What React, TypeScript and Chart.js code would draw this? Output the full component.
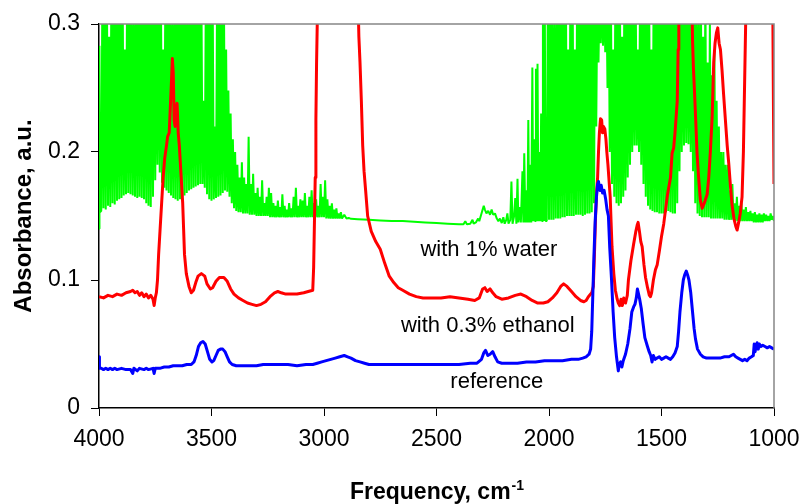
import React, { useEffect, useRef } from 'react';
import { Chart, registerables } from 'chart.js';

Chart.register(...registerables);

// ---- axis ticks ----
const xTicks = [4000, 3500, 3000, 2500, 2000, 1500, 1000];
const yTicks = [0, 0.1, 0.2, 0.3];
const yTickLabels = ['0', '0.1', '0.2', '0.3'];

// ---- series names / colours ----
const seriesNames = ['with 1% water', 'with 0.3% ethanol', 'reference'];
const seriesColors = ['#00ff00', '#ff0000', '#0000ff'];

// ---- in-plot labels (data coords: x = wavenumber, y = baseline absorbance) ----
const labelTexts = ['with 1% water', 'with 0.3% ethanol', 'reference'];
const labelXs = [2267, 2272, 2232];
const labelYs = [0.1185, 0.0591, 0.0154];

// ---- reference (blue) ----
const referenceData: [number, number][] = [
  [4000, 0.040], [3998, 0.031], [3990, 0.031], [3980, 0.030], [3970, 0.031], [3960, 0.030], [3950, 0.031],
  [3940, 0.030], [3930, 0.031], [3920, 0.030], [3900, 0.031], [3880, 0.030], [3860, 0.030], [3850, 0.027],
  [3845, 0.031], [3830, 0.029], [3820, 0.031], [3800, 0.030], [3790, 0.031], [3780, 0.030], [3760, 0.031],
  [3755, 0.027], [3750, 0.031], [3730, 0.031], [3710, 0.032], [3690, 0.032], [3670, 0.033], [3650, 0.033],
  [3630, 0.033], [3610, 0.034], [3590, 0.034], [3578, 0.036], [3568, 0.041], [3558, 0.048], [3548, 0.051],
  [3538, 0.052], [3528, 0.050], [3518, 0.044], [3508, 0.038], [3498, 0.036], [3490, 0.037], [3480, 0.041],
  [3470, 0.045], [3460, 0.046], [3450, 0.046], [3440, 0.044], [3430, 0.040], [3420, 0.036], [3408, 0.034],
  [3390, 0.033], [3360, 0.033], [3330, 0.033], [3300, 0.033], [3270, 0.034], [3240, 0.034], [3200, 0.034],
  [3160, 0.034], [3120, 0.033], [3080, 0.034], [3050, 0.034], [3030, 0.035], [3010, 0.036], [2990, 0.037],
  [2970, 0.038], [2950, 0.039], [2930, 0.040], [2910, 0.041], [2895, 0.040], [2880, 0.039], [2860, 0.037],
  [2840, 0.036], [2820, 0.035], [2800, 0.034], [2760, 0.034], [2700, 0.034], [2640, 0.034], [2580, 0.034],
  [2520, 0.034], [2460, 0.034], [2400, 0.034], [2350, 0.035], [2320, 0.035], [2300, 0.038], [2290, 0.043],
  [2282, 0.045], [2272, 0.041], [2262, 0.042], [2250, 0.044], [2240, 0.040], [2228, 0.036], [2210, 0.035],
  [2180, 0.035], [2140, 0.035], [2100, 0.036], [2060, 0.036], [2020, 0.037], [1980, 0.037], [1940, 0.037],
  [1900, 0.038], [1870, 0.038], [1850, 0.039], [1835, 0.040], [1822, 0.042], [1815, 0.046], [1810, 0.060],
  [1805, 0.090], [1800, 0.120], [1795, 0.145], [1789, 0.165], [1784, 0.175], [1780, 0.177], [1774, 0.170],
  [1768, 0.174], [1762, 0.168], [1755, 0.170], [1748, 0.163], [1742, 0.155], [1736, 0.150], [1730, 0.125],
  [1722, 0.100], [1715, 0.075], [1708, 0.055], [1700, 0.040], [1692, 0.029], [1688, 0.034], [1682, 0.036],
  [1676, 0.032], [1670, 0.037], [1660, 0.042], [1650, 0.050], [1640, 0.062], [1632, 0.075], [1624, 0.079],
  [1618, 0.081], [1612, 0.086], [1607, 0.093], [1602, 0.089], [1597, 0.085], [1590, 0.078], [1582, 0.066],
  [1574, 0.055], [1564, 0.049], [1555, 0.044], [1548, 0.041], [1542, 0.036], [1536, 0.041], [1528, 0.038],
  [1520, 0.039], [1510, 0.040], [1500, 0.038], [1490, 0.039], [1480, 0.040], [1470, 0.039], [1460, 0.038],
  [1450, 0.040], [1440, 0.043], [1430, 0.048], [1424, 0.060], [1418, 0.075], [1410, 0.090], [1403, 0.100],
  [1397, 0.104], [1390, 0.107], [1384, 0.104], [1378, 0.100], [1370, 0.090], [1362, 0.075], [1355, 0.062],
  [1349, 0.054], [1340, 0.046], [1327, 0.042], [1315, 0.040], [1300, 0.039], [1280, 0.039], [1260, 0.039],
  [1240, 0.039], [1220, 0.040], [1200, 0.040], [1190, 0.041], [1180, 0.042], [1170, 0.040], [1160, 0.039],
  [1150, 0.038], [1140, 0.037], [1130, 0.038], [1120, 0.037], [1110, 0.039], [1100, 0.040], [1092, 0.041],
  [1088, 0.050], [1084, 0.044], [1080, 0.048], [1075, 0.051], [1070, 0.046], [1065, 0.050], [1058, 0.048],
  [1050, 0.049], [1040, 0.048], [1030, 0.047], [1020, 0.048], [1010, 0.047], [1000, 0.046],
];

// ---- with 0.3% ethanol (red) ----
const ethanolData: [number, number][] = [
  [4000, 0.087], [3980, 0.086], [3960, 0.088], [3940, 0.087], [3920, 0.089], [3900, 0.088], [3880, 0.090],
  [3860, 0.091], [3850, 0.092], [3840, 0.090], [3830, 0.091], [3820, 0.088], [3810, 0.090], [3800, 0.087],
  [3790, 0.089], [3780, 0.086], [3770, 0.088], [3760, 0.085], [3755, 0.080], [3750, 0.086], [3745, 0.090],
  [3740, 0.100], [3735, 0.120], [3725, 0.150], [3715, 0.180], [3708, 0.195], [3700, 0.205], [3695, 0.212],
  [3688, 0.215], [3683, 0.235], [3678, 0.255], [3674, 0.273], [3670, 0.262], [3666, 0.225], [3662, 0.220],
  [3657, 0.235], [3653, 0.238], [3648, 0.215], [3643, 0.205], [3638, 0.190], [3633, 0.175], [3628, 0.160],
  [3624, 0.140], [3620, 0.120], [3612, 0.105], [3600, 0.095], [3590, 0.090], [3580, 0.092], [3570, 0.098],
  [3560, 0.103], [3545, 0.105], [3530, 0.103], [3520, 0.097], [3505, 0.093], [3495, 0.094], [3480, 0.099],
  [3465, 0.102], [3445, 0.102], [3430, 0.099], [3415, 0.093], [3400, 0.089], [3380, 0.086], [3360, 0.084],
  [3340, 0.082], [3320, 0.081], [3300, 0.080], [3280, 0.081], [3260, 0.083], [3240, 0.087], [3220, 0.090],
  [3205, 0.091], [3190, 0.090], [3170, 0.089], [3150, 0.089], [3120, 0.089], [3090, 0.090], [3070, 0.091],
  [3050, 0.092], [3046, 0.110], [3042, 0.150], [3039, 0.180], [3036, 0.225], [3033, 0.270], [3030, 0.300],
  [3026, 0.330], [2850, 0.330], [2845, 0.290], [2840, 0.270], [2834, 0.240], [2828, 0.205], [2822, 0.185],
  [2815, 0.170], [2806, 0.150], [2790, 0.138], [2770, 0.130], [2750, 0.124], [2730, 0.113], [2710, 0.103],
  [2690, 0.098], [2670, 0.094], [2650, 0.092], [2620, 0.089], [2590, 0.087], [2560, 0.086], [2520, 0.086],
  [2480, 0.086], [2440, 0.087], [2400, 0.086], [2360, 0.085], [2330, 0.084], [2310, 0.086], [2295, 0.093],
  [2285, 0.094], [2275, 0.091], [2262, 0.093], [2250, 0.090], [2235, 0.087], [2210, 0.085], [2180, 0.086],
  [2150, 0.088], [2125, 0.089], [2100, 0.087], [2075, 0.084], [2050, 0.082], [2025, 0.082], [2005, 0.083],
  [1985, 0.086], [1965, 0.090], [1948, 0.095], [1935, 0.097], [1920, 0.095], [1900, 0.091], [1880, 0.087],
  [1860, 0.084], [1845, 0.083], [1835, 0.084], [1825, 0.087], [1815, 0.089], [1810, 0.090], [1803, 0.095],
  [1798, 0.120], [1793, 0.150], [1788, 0.170], [1784, 0.180], [1780, 0.200], [1776, 0.215], [1771, 0.226],
  [1766, 0.225], [1762, 0.215], [1758, 0.220], [1752, 0.218], [1747, 0.210], [1743, 0.200], [1738, 0.190],
  [1734, 0.180], [1728, 0.165], [1724, 0.145], [1720, 0.126], [1712, 0.105], [1705, 0.092], [1697, 0.085],
  [1692, 0.082], [1686, 0.080], [1680, 0.085], [1674, 0.080], [1668, 0.086], [1660, 0.082], [1652, 0.088],
  [1647, 0.100], [1636, 0.115], [1624, 0.128], [1614, 0.138], [1608, 0.143], [1604, 0.145], [1598, 0.138],
  [1592, 0.130], [1586, 0.126], [1578, 0.112], [1571, 0.102], [1562, 0.094], [1554, 0.088], [1549, 0.087],
  [1544, 0.090], [1536, 0.100], [1527, 0.108], [1519, 0.112], [1510, 0.122], [1500, 0.134], [1490, 0.144],
  [1482, 0.155], [1474, 0.166], [1466, 0.174], [1460, 0.180], [1453, 0.199], [1446, 0.203], [1440, 0.215],
  [1434, 0.230], [1430, 0.240], [1426, 0.280], [1423, 0.330], [1366, 0.330], [1362, 0.287], [1358, 0.265],
  [1354, 0.250], [1348, 0.225], [1342, 0.199], [1335, 0.180], [1327, 0.162], [1319, 0.156], [1310, 0.160],
  [1297, 0.167], [1290, 0.180], [1283, 0.200], [1275, 0.227], [1268, 0.270], [1262, 0.285], [1256, 0.293],
  [1250, 0.297], [1244, 0.285], [1238, 0.280], [1231, 0.264], [1224, 0.245], [1216, 0.225], [1208, 0.205],
  [1201, 0.191], [1193, 0.172], [1186, 0.158], [1178, 0.148], [1170, 0.142], [1164, 0.139], [1157, 0.145],
  [1150, 0.152], [1142, 0.165], [1136, 0.200], [1131, 0.250], [1126, 0.300], [1122, 0.330], [1006, 0.330],
  [1003, 0.250], [1000, 0.175],
];

// ---- with 1% water (green) ----
const waterData: [number, number][] = [
  [4000, 0.140], [3998, 0.283], [3995, 0.153],
  [3990, 0.154], [3985, 0.33], [3980, 0.156], [3975, 0.33], [3970, 0.155], [3965, 0.33], [3960, 0.158],
  [3955, 0.29], [3950, 0.157], [3945, 0.33], [3940, 0.160], [3935, 0.33], [3930, 0.159], [3925, 0.33],
  [3920, 0.162], [3915, 0.33], [3910, 0.163], [3905, 0.33], [3900, 0.164], [3895, 0.33], [3890, 0.166],
  [3885, 0.28], [3880, 0.167], [3875, 0.33], [3870, 0.168], [3865, 0.33], [3860, 0.167], [3855, 0.33],
  [3850, 0.166], [3845, 0.30], [3840, 0.165], [3835, 0.33], [3830, 0.164], [3825, 0.33], [3820, 0.165],
  [3815, 0.33], [3810, 0.164], [3805, 0.33], [3800, 0.163], [3795, 0.33], [3790, 0.160], [3785, 0.33],
  [3780, 0.158], [3775, 0.33], [3770, 0.157], [3765, 0.33], [3760, 0.165], [3755, 0.33], [3750, 0.178],
  [3745, 0.33], [3740, 0.190], [3735, 0.33], [3730, 0.184], [3725, 0.33], [3720, 0.176], [3715, 0.28],
  [3710, 0.172], [3705, 0.33], [3700, 0.170], [3695, 0.33], [3690, 0.168], [3685, 0.33], [3680, 0.166],
  [3675, 0.30], [3670, 0.164], [3665, 0.33], [3660, 0.163], [3655, 0.33], [3650, 0.162], [3645, 0.33],
  [3640, 0.163], [3635, 0.33], [3630, 0.165], [3625, 0.33], [3620, 0.166], [3615, 0.33], [3610, 0.168],
  [3605, 0.30], [3600, 0.170], [3595, 0.33], [3590, 0.171], [3585, 0.33], [3580, 0.172], [3575, 0.33],
  [3570, 0.173], [3565, 0.33], [3560, 0.174], [3555, 0.33], [3550, 0.175], [3545, 0.33], [3540, 0.175],
  [3535, 0.24], [3530, 0.172], [3525, 0.33], [3520, 0.167], [3515, 0.33], [3510, 0.163], [3505, 0.33],
  [3500, 0.162], [3495, 0.33], [3490, 0.163], [3485, 0.22], [3480, 0.164], [3475, 0.33], [3470, 0.165],
  [3465, 0.33], [3460, 0.166], [3455, 0.33], [3450, 0.168], [3445, 0.33], [3440, 0.170], [3435, 0.28],
  [3430, 0.169], [3425, 0.248], [3420, 0.165], [3415, 0.23], [3410, 0.160], [3405, 0.21], [3400, 0.156],
  [3395, 0.20], [3390, 0.154], [3385, 0.19], [3380, 0.153], [3375, 0.18], [3370, 0.153], [3365, 0.192],
  [3360, 0.152], [3355, 0.18], [3350, 0.152], [3345, 0.175], [3340, 0.152], [3335, 0.212], [3330, 0.151],
  [3325, 0.175], [3320, 0.151], [3315, 0.183], [3310, 0.151], [3305, 0.168], [3300, 0.150], [3295, 0.172],
  [3290, 0.150], [3285, 0.165], [3280, 0.150], [3275, 0.178], [3270, 0.150], [3265, 0.160], [3260, 0.150],
  [3255, 0.165], [3250, 0.150], [3245, 0.172], [3240, 0.149], [3235, 0.168], [3230, 0.149], [3225, 0.160],
  [3220, 0.149], [3215, 0.158], [3210, 0.149], [3205, 0.162], [3200, 0.149], [3195, 0.157], [3190, 0.149],
  [3185, 0.167], [3180, 0.149], [3175, 0.158], [3170, 0.149], [3165, 0.155], [3160, 0.149], [3155, 0.160],
  [3150, 0.149], [3145, 0.156], [3140, 0.149], [3135, 0.165], [3130, 0.149], [3125, 0.172], [3120, 0.149],
  [3115, 0.158], [3110, 0.149], [3105, 0.163], [3100, 0.149], [3095, 0.162], [3090, 0.149], [3085, 0.168],
  [3080, 0.149], [3075, 0.158], [3070, 0.149], [3065, 0.165], [3060, 0.149], [3055, 0.170], [3050, 0.149],
  [3045, 0.160], [3040, 0.149], [3035, 0.163], [3030, 0.149], [3025, 0.158], [3020, 0.149], [3015, 0.175],
  [3010, 0.149], [3005, 0.165], [3000, 0.149], [2995, 0.178], [2990, 0.148], [2985, 0.163], [2980, 0.148],
  [2975, 0.158], [2970, 0.148], [2965, 0.160], [2960, 0.148], [2955, 0.155], [2950, 0.148], [2945, 0.156],
  [2940, 0.148], [2935, 0.152], [2930, 0.148], [2925, 0.153], [2920, 0.148], [2910, 0.151], [2900, 0.148],
  [2890, 0.1485], [2880, 0.1478], [2850, 0.1475], [2800, 0.147], [2750, 0.1465], [2700, 0.146],
  [2650, 0.146], [2600, 0.1455], [2550, 0.145], [2500, 0.1445], [2450, 0.144], [2400, 0.1435],
  [2380, 0.1435], [2372, 0.146], [2365, 0.1435], [2350, 0.144], [2340, 0.147], [2335, 0.144], [2325, 0.145],
  [2315, 0.148], [2310, 0.146], [2300, 0.152], [2295, 0.155], [2290, 0.158], [2285, 0.155], [2278, 0.152],
  [2270, 0.154], [2262, 0.151], [2255, 0.155], [2248, 0.151], [2240, 0.152], [2232, 0.148], [2225, 0.146],
  [2218, 0.148], [2210, 0.1445], [2203, 0.149], [2197, 0.144], [2190, 0.147], [2185, 0.152], [2180, 0.144],
  [2172, 0.147], [2167, 0.177], [2162, 0.144], [2155, 0.150], [2150, 0.164], [2145, 0.144], [2140, 0.179],
  [2136, 0.145], [2130, 0.157], [2125, 0.145], [2118, 0.185], [2114, 0.145], [2110, 0.199], [2105, 0.145],
  [2100, 0.170], [2096, 0.145], [2092, 0.225], [2088, 0.145], [2083, 0.190], [2079, 0.145], [2074, 0.266],
  [2070, 0.146], [2066, 0.210], [2062, 0.146], [2058, 0.265], [2055, 0.146], [2051, 0.269], [2047, 0.146],
  [2043, 0.200], [2039, 0.146], [2035, 0.230], [2031, 0.146], [2027, 0.300], [2023, 0.146], [2019, 0.33],
  [2015, 0.146],
  [2010, 0.146], [2005, 0.33], [2000, 0.147], [1995, 0.33], [1990, 0.147], [1985, 0.33], [1980, 0.147],
  [1975, 0.30], [1970, 0.148], [1965, 0.33], [1960, 0.148], [1955, 0.33], [1950, 0.148], [1945, 0.33],
  [1940, 0.149], [1935, 0.33], [1930, 0.149], [1925, 0.33], [1920, 0.150], [1915, 0.28], [1910, 0.150],
  [1905, 0.33], [1900, 0.150], [1895, 0.33], [1890, 0.150], [1885, 0.28], [1880, 0.151], [1875, 0.33],
  [1870, 0.151], [1865, 0.33], [1860, 0.151], [1855, 0.33], [1850, 0.150], [1845, 0.33], [1840, 0.151],
  [1835, 0.33], [1830, 0.152], [1825, 0.33], [1820, 0.152], [1815, 0.33], [1810, 0.153], [1805, 0.33],
  [1800, 0.160], [1795, 0.33], [1790, 0.220], [1785, 0.33], [1780, 0.270], [1775, 0.33], [1770, 0.285],
  [1765, 0.33], [1760, 0.283], [1755, 0.33], [1750, 0.278], [1745, 0.33], [1740, 0.250], [1735, 0.33],
  [1730, 0.200], [1725, 0.33], [1720, 0.175], [1715, 0.28], [1710, 0.165], [1705, 0.33], [1700, 0.160],
  [1695, 0.33], [1690, 0.158], [1685, 0.33], [1680, 0.160], [1675, 0.29], [1670, 0.165], [1665, 0.33],
  [1660, 0.170], [1655, 0.33], [1650, 0.180], [1645, 0.33], [1640, 0.190], [1635, 0.30], [1630, 0.200],
  [1625, 0.33], [1620, 0.205], [1615, 0.33], [1610, 0.205], [1605, 0.28], [1600, 0.200], [1595, 0.33],
  [1590, 0.190], [1585, 0.33], [1580, 0.175], [1575, 0.33], [1570, 0.165], [1565, 0.33], [1560, 0.158],
  [1555, 0.33], [1550, 0.155], [1545, 0.28], [1540, 0.154], [1535, 0.33], [1530, 0.153], [1525, 0.33],
  [1520, 0.153], [1515, 0.33], [1510, 0.152], [1505, 0.33], [1500, 0.152], [1495, 0.33], [1490, 0.152],
  [1485, 0.33], [1480, 0.153], [1475, 0.33], [1470, 0.154], [1465, 0.33], [1460, 0.153], [1455, 0.33],
  [1450, 0.152], [1445, 0.33], [1440, 0.152], [1435, 0.33], [1430, 0.160], [1425, 0.33], [1420, 0.185],
  [1415, 0.33], [1410, 0.200], [1405, 0.33], [1400, 0.205], [1395, 0.33], [1390, 0.207], [1385, 0.33],
  [1380, 0.206], [1375, 0.33], [1370, 0.200], [1365, 0.33], [1360, 0.185], [1355, 0.33], [1350, 0.160],
  [1345, 0.33], [1340, 0.152], [1335, 0.30],
  [1330, 0.150], [1325, 0.33], [1320, 0.149], [1315, 0.29], [1310, 0.149], [1305, 0.33], [1300, 0.149],
  [1295, 0.27], [1290, 0.149], [1285, 0.30], [1280, 0.148], [1275, 0.26], [1270, 0.148], [1265, 0.28],
  [1260, 0.148], [1255, 0.24], [1250, 0.148], [1245, 0.22], [1240, 0.148], [1235, 0.20], [1230, 0.148],
  [1225, 0.20], [1220, 0.147], [1215, 0.19], [1210, 0.147], [1205, 0.19], [1200, 0.147], [1195, 0.17],
  [1190, 0.147], [1185, 0.175], [1180, 0.147], [1175, 0.160], [1170, 0.146], [1165, 0.165], [1160, 0.146],
  [1155, 0.158], [1150, 0.146], [1145, 0.160], [1140, 0.146], [1135, 0.155], [1130, 0.146], [1125, 0.157],
  [1120, 0.146], [1115, 0.153], [1110, 0.146], [1105, 0.154], [1100, 0.146], [1095, 0.152], [1090, 0.145],
  [1085, 0.153], [1080, 0.145], [1075, 0.151], [1070, 0.145], [1065, 0.152], [1060, 0.145], [1055, 0.151],
  [1050, 0.145], [1045, 0.152], [1040, 0.146], [1035, 0.151], [1030, 0.146], [1025, 0.150], [1020, 0.146],
  [1015, 0.152], [1010, 0.147], [1005, 0.150], [1000, 0.146],
];

const FONT = '"Liberation Sans", Arial, Helvetica, sans-serif';

const overlayPlugin = {
  id: 'overlay',
  afterDraw(chart: any) {
    const { ctx, chartArea: a, scales } = chart;
    ctx.save();
    // top and right frame in grey
    ctx.strokeStyle = '#868686';
    ctx.lineWidth = 1.5;
    ctx.beginPath();
    ctx.moveTo(a.left, a.top);
    ctx.lineTo(a.right, a.top);
    ctx.lineTo(a.right, a.bottom);
    ctx.stroke();

    // series labels inside plot
    ctx.fillStyle = '#000';
    ctx.font = `22px ${FONT}`;
    ctx.textAlign = 'center';
    ctx.textBaseline = 'alphabetic';
    labelTexts.forEach((t, i) => {
      ctx.fillText(t, scales.x.getPixelForValue(labelXs[i]), scales.y.getPixelForValue(labelYs[i]));
    });

    // x axis title with superscript
    const main = 'Frequency, cm';
    const sup = '-1';
    ctx.font = `bold 23px ${FONT}`;
    const w1 = ctx.measureText(main).width;
    ctx.font = `bold 14px ${FONT}`;
    const w2 = ctx.measureText(sup).width;
    const cx = (a.left + a.right) / 2;
    const x0 = cx - (w1 + w2) / 2;
    const base = a.bottom + 91;
    ctx.textAlign = 'left';
    ctx.font = `bold 23px ${FONT}`;
    ctx.fillText(main, x0, base);
    ctx.font = `bold 14px ${FONT}`;
    ctx.fillText(sup, x0 + w1 + 1, base - 9);
    ctx.restore();
  },
};

export default function App() {
  const ref = useRef<HTMLCanvasElement | null>(null);

  useEffect(() => {
    if (!ref.current) return;
    const toXY = (arr: [number, number][]) => arr.map(([x, y]) => ({ x, y }));
    const chart = new Chart(ref.current, {
      type: 'scatter',
      data: {
        datasets: [
          {
            label: seriesNames[2],
            data: toXY(referenceData),
            showLine: true,
            borderColor: seriesColors[2],
            backgroundColor: seriesColors[2],
            borderWidth: 3,
            pointRadius: 0,
            borderJoinStyle: 'round',
            tension: 0,
            order: 1,
          },
          {
            label: seriesNames[1],
            data: toXY(ethanolData),
            showLine: true,
            borderColor: seriesColors[1],
            backgroundColor: seriesColors[1],
            borderWidth: 3,
            pointRadius: 0,
            borderJoinStyle: 'round',
            tension: 0,
            order: 2,
          },
          {
            label: seriesNames[0],
            data: toXY(waterData),
            showLine: true,
            borderColor: seriesColors[0],
            backgroundColor: seriesColors[0],
            borderWidth: 2,
            pointRadius: 0,
            borderJoinStyle: 'bevel',
            tension: 0,
            order: 3,
          },
        ],
      },
      options: {
        animation: false,
        responsive: false,
        devicePixelRatio: 1,
        layout: { padding: { left: 0, top: 24, right: 27, bottom: 0 } },
        plugins: {
          legend: { display: false },
          tooltip: { enabled: false },
          title: { display: false },
        },
        scales: {
          x: {
            type: 'linear',
            reverse: true,
            min: 1000,
            max: 4000,
            afterFit: (s: any) => {
              s.height = 96;
              s.paddingLeft = 0;
              s.paddingRight = 0;
            },
            afterBuildTicks: (s: any) => {
              s.ticks = xTicks.map((v) => ({ value: v }));
            },
            ticks: {
              color: '#000',
              font: { family: FONT, size: 23 },
              padding: 10,
              maxRotation: 0,
              autoSkip: false,
              callback: (v: any) => String(v),
            },
            grid: {
              display: true,
              drawOnChartArea: false,
              drawTicks: true,
              tickLength: 8,
              color: '#000',
            },
            border: { display: true, color: '#000', width: 1.5 },
            title: { display: false },
          },
          y: {
            type: 'linear',
            min: 0,
            max: 0.3,
            afterFit: (s: any) => {
              s.width = 99;
              s.paddingTop = 0;
              s.paddingBottom = 0;
            },
            afterBuildTicks: (s: any) => {
              s.ticks = yTicks.map((v) => ({ value: v }));
            },
            ticks: {
              color: '#000',
              font: { family: FONT, size: 23 },
              padding: 11,
              autoSkip: false,
              callback: (v: any) => {
                const i = yTicks.findIndex((t) => Math.abs(t - Number(v)) < 1e-9);
                return i >= 0 ? yTickLabels[i] : '';
              },
            },
            grid: {
              display: true,
              drawOnChartArea: false,
              drawTicks: true,
              tickLength: 8,
              color: '#000',
            },
            border: { display: true, color: '#000', width: 1.5 },
            title: {
              display: true,
              text: 'Absorbance, a.u.',
              color: '#000',
              font: { family: FONT, size: 24, weight: 'bold' },
              padding: { top: 10, bottom: 0 },
            },
          },
        },
      },
      plugins: [overlayPlugin],
    });
    return () => chart.destroy();
  }, []);

  return (
    <div style={{ position: 'absolute', left: 0, top: 0, width: 801, height: 504, background: '#fff' }}>
      <canvas ref={ref} width={801} height={504} style={{ width: 801, height: 504 }} />
    </div>
  );
}
